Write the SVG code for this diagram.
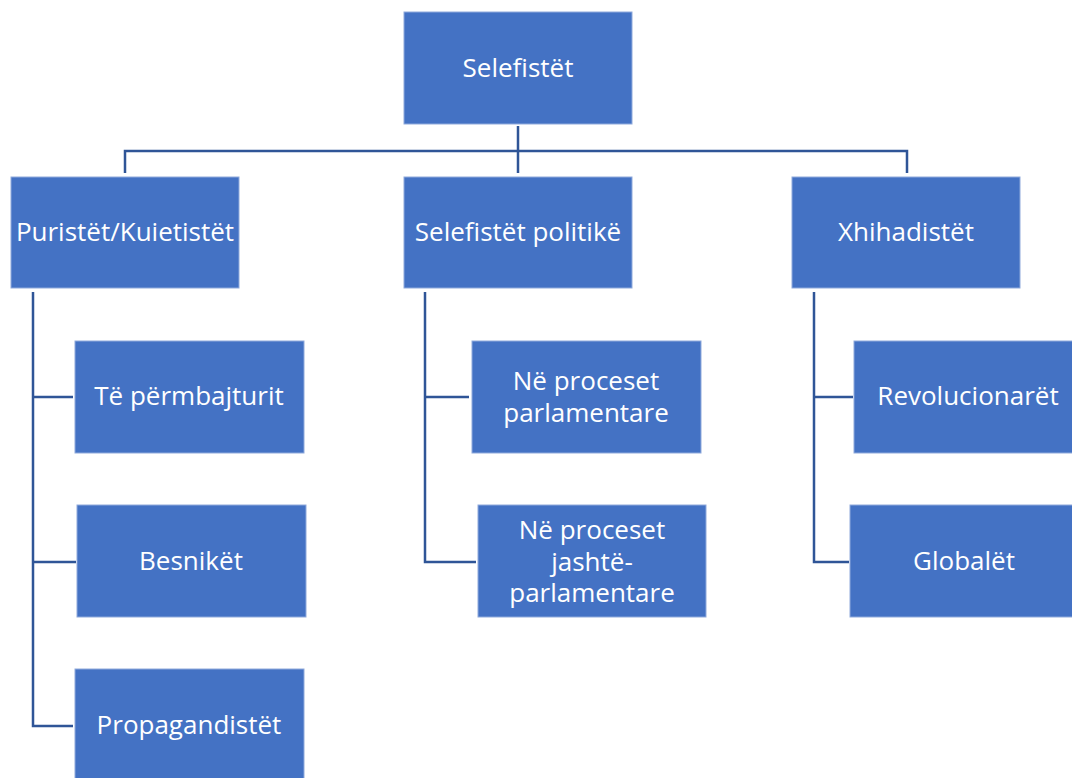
<svg xmlns="http://www.w3.org/2000/svg" width="1072" height="778" viewBox="0 0 1072 778">
<style>
.box{fill:#4472C4;stroke:#8faadc;stroke-width:1}
.t{fill:#ffffff;font-family:"Open Sans","Noto Sans",sans-serif;font-size:26px;text-anchor:middle}
.c{fill:none;stroke:#2F5597;stroke-width:2.5}
</style>
<rect width="1072" height="778" fill="#ffffff"/>
<g id="connectors">
<path class="c" d="M518,126 V173 M125,173 V151 H907 V173"/>
<path class="c" d="M33,292 V726 H73 M33,397 H73 M33,562 H76"/>
<path class="c" d="M425,292 V562 H476 M425,397 H469"/>
<path class="c" d="M814,292 V562 H849 M814,397 H853"/>
</g>
<g id="root"><rect class="box" x="404" y="12" width="228" height="112"/><text class="t" x="518" y="77">Selefistët</text></g>
<g id="puristet"><rect class="box" x="11" y="177" width="228" height="111"/><text class="t" x="125" y="241">Puristët/Kuietistët</text></g>
<g id="politike"><rect class="box" x="404" y="177" width="228" height="111"/><text class="t" x="518" y="241">Selefistët politikë</text></g>
<g id="xhihadistet"><rect class="box" x="792" y="177" width="228" height="111"/><text class="t" x="906" y="241">Xhihadistët</text></g>
<g id="permbajturit"><rect class="box" x="75" y="341" width="229" height="112"/><text class="t" x="189" y="405">Të përmbajturit</text></g>
<g id="besniket"><rect class="box" x="77" y="505" width="229" height="112"/><text class="t" x="191" y="570">Besnikët</text></g>
<g id="propagandistet"><rect class="box" x="75" y="669" width="229" height="112"/><text class="t" x="189" y="734">Propagandistët</text></g>
<g id="parlamentare"><rect class="box" x="472" y="341" width="229" height="112"/><text class="t" x="586" y="390">Në proceset</text><text class="t" x="586" y="422">parlamentare</text></g>
<g id="jashte"><rect class="box" x="478" y="505" width="228" height="112"/><text class="t" x="592" y="539">Në proceset</text><text class="t" x="592" y="571">jashtë-</text><text class="t" x="592" y="602">parlamentare</text></g>
<g id="revolucionaret"><rect class="box" x="854" y="341" width="230" height="112"/><text class="t" x="968" y="405">Revolucionarët</text></g>
<g id="globalet"><rect class="box" x="850" y="505" width="234" height="112"/><text class="t" x="964" y="570">Globalët</text></g>
</svg>
